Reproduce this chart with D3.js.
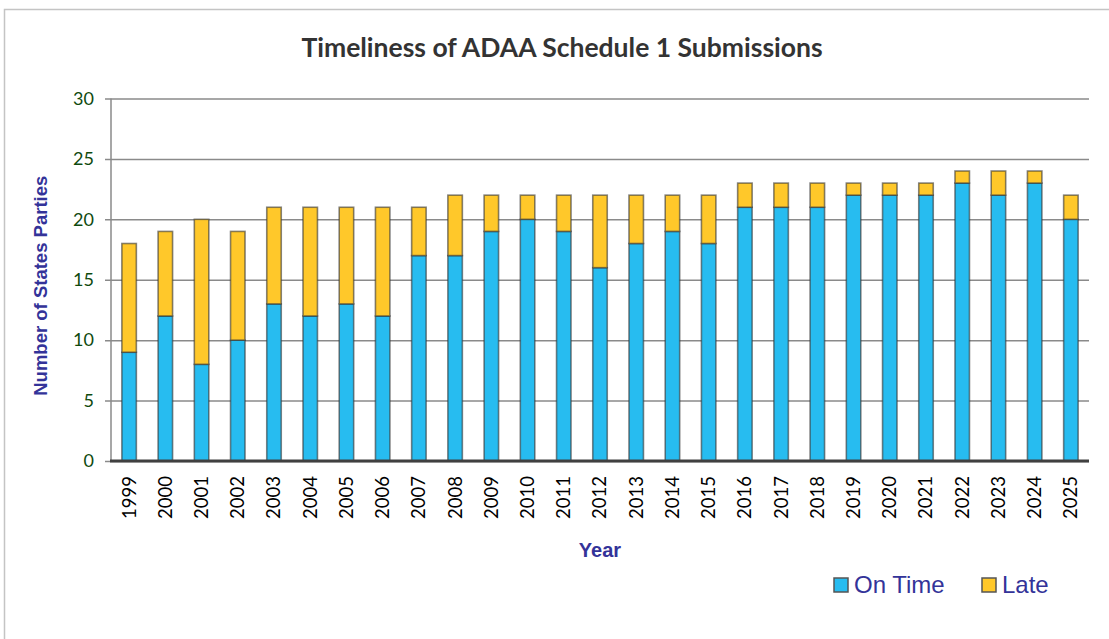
<!DOCTYPE html>
<html>
<head>
<meta charset="utf-8">
<title>Timeliness of ADAA Schedule 1 Submissions</title>
<script src="https://cdn.jsdelivr.net/npm/d3@7/dist/d3.min.js"></script>
<style>
  body { margin: 0; background: #fff; }
  .ytick text { font-family: Lato, "Open Sans", sans-serif; font-size: 18px; fill: #0f4a0f; }
  .xtick text { font-family: Lato, "Open Sans", sans-serif; font-size: 18.5px; fill: #000; }
</style>
</head>
<body>
<script>
// data
var years = ["1999","2000","2001","2002","2003","2004","2005","2006","2007","2008","2009","2010","2011",
             "2012","2013","2014","2015","2016","2017","2018","2019","2020","2021","2022","2023","2024","2025"];
var onTime = [9,12,8,10,13,12,13,12,17,17,19,20,19,16,18,19,18,21,21,21,22,22,22,23,22,23,20];
var late   = [9,7,12,9,8,9,8,9,4,5,3,2,3,6,4,3,4,2,2,2,1,1,1,1,2,1,2];
var yTicks = [0,5,10,15,20,25,30];
var seriesNames = ["On Time", "Late"];
var colors = {"On Time": "#27bcf0", "Late": "#ffc82a"};

var width = 1109, height = 639;
var plot = {left: 111, right: 1089, top: 98.5, bottom: 461};

var svg = d3.select("body").append("svg")
    .attr("width", width)
    .attr("height", height);

// outer chart border
svg.append("rect")
    .attr("x", 4.5).attr("y", 9.5)
    .attr("width", width + 10).attr("height", height + 10)
    .attr("fill", "none")
    .attr("stroke", "#c4c4c4")
    .attr("stroke-width", 1.5);

// title
svg.append("text")
    .attr("x", 562).attr("y", 57)
    .attr("text-anchor", "middle")
    .style("font-family", "Lato, 'Open Sans', sans-serif")
    .style("font-weight", "bold")
    .style("font-size", "26.5px")
    .style("fill", "#333")
    .text("Timeliness of ADAA Schedule 1 Submissions");

var x = d3.scaleBand()
    .domain(years)
    .range([plot.left, plot.right])
    .paddingInner(0.6)
    .paddingOuter(0.3);

var y = d3.scaleLinear()
    .domain([0, 30])
    .range([plot.bottom, plot.top]);

// gridlines + y axis
var yAxis = d3.axisLeft(y)
    .tickValues(yTicks)
    .tickSize(-(plot.right - plot.left))
    .tickPadding(17);

var gy = svg.append("g")
    .attr("class", "ytick")
    .attr("transform", "translate(" + plot.left + ",0)")
    .call(yAxis);
gy.select(".domain").remove();
gy.selectAll("line")
    .attr("x1", -6)
    .attr("stroke", "#8a8a8a")
    .attr("stroke-width", 1.5);

// left axis line
svg.append("line")
    .attr("x1", plot.left).attr("x2", plot.left)
    .attr("y1", plot.top).attr("y2", plot.bottom)
    .attr("stroke", "#8a8a8a")
    .attr("stroke-width", 1.5);

// stacked bars
var stackData = years.map(function(yr, i) {
    return {year: yr, "On Time": onTime[i], "Late": late[i]};
});
var stacked = d3.stack().keys(seriesNames)(stackData);

svg.append("g").selectAll("g")
    .data(stacked)
    .enter().append("g")
    .attr("fill", function(d) { return colors[d.key]; })
    .selectAll("rect")
    .data(function(d) { return d; })
    .enter().append("rect")
    .attr("x", function(d) { return x(d.data.year); })
    .attr("width", x.bandwidth())
    .attr("y", function(d) { return y(d[1]); })
    .attr("height", function(d) { return y(d[0]) - y(d[1]); })
    .attr("stroke", "#333")
    .attr("stroke-opacity", 0.6)
    .attr("stroke-width", 1.6);

// bottom axis
var xAxis = d3.axisBottom(x).tickSize(0).tickPadding(0);
var gx = svg.append("g")
    .attr("class", "xtick")
    .attr("transform", "translate(0," + plot.bottom + ")")
    .call(xAxis);
gx.select(".domain").remove();
gx.selectAll("text")
    .attr("transform", "rotate(-90)")
    .attr("x", -15)
    .attr("y", 0)
    .attr("dy", "0.35em")
    .attr("text-anchor", "end");

svg.append("line")
    .attr("x1", plot.left - 1).attr("x2", plot.right)
    .attr("y1", plot.bottom).attr("y2", plot.bottom)
    .attr("stroke", "#404040")
    .attr("stroke-width", 3);

// axis titles
svg.append("text")
    .attr("transform", "translate(47," + ((plot.top + plot.bottom) / 2 + 6) + ") rotate(-90)")
    .attr("text-anchor", "middle")
    .style("font-family", "'Liberation Sans', Arial, sans-serif")
    .style("font-weight", "bold")
    .style("font-size", "18.5px")
    .style("fill", "#333399")
    .text("Number of States Parties");

svg.append("text")
    .attr("x", 600).attr("y", 557)
    .attr("text-anchor", "middle")
    .style("font-family", "'Liberation Sans', Arial, sans-serif")
    .style("font-weight", "bold")
    .style("font-size", "20px")
    .style("fill", "#333399")
    .text("Year");

// legend
var legendX = [834, 982];
var legend = svg.append("g").selectAll("g")
    .data(seriesNames)
    .enter().append("g")
    .attr("transform", function(d, i) { return "translate(" + legendX[i] + ",578)"; });
legend.append("rect")
    .attr("width", 14).attr("height", 14)
    .attr("fill", function(d) { return colors[d]; })
    .attr("stroke", "#555")
    .attr("stroke-width", 1.5);
legend.append("text")
    .attr("x", 20).attr("y", 15)
    .style("font-family", "'Liberation Sans', Arial, sans-serif")
    .style("font-size", "24px")
    .style("fill", "#333399")
    .text(function(d) { return d; });
</script>
</body>
</html>
